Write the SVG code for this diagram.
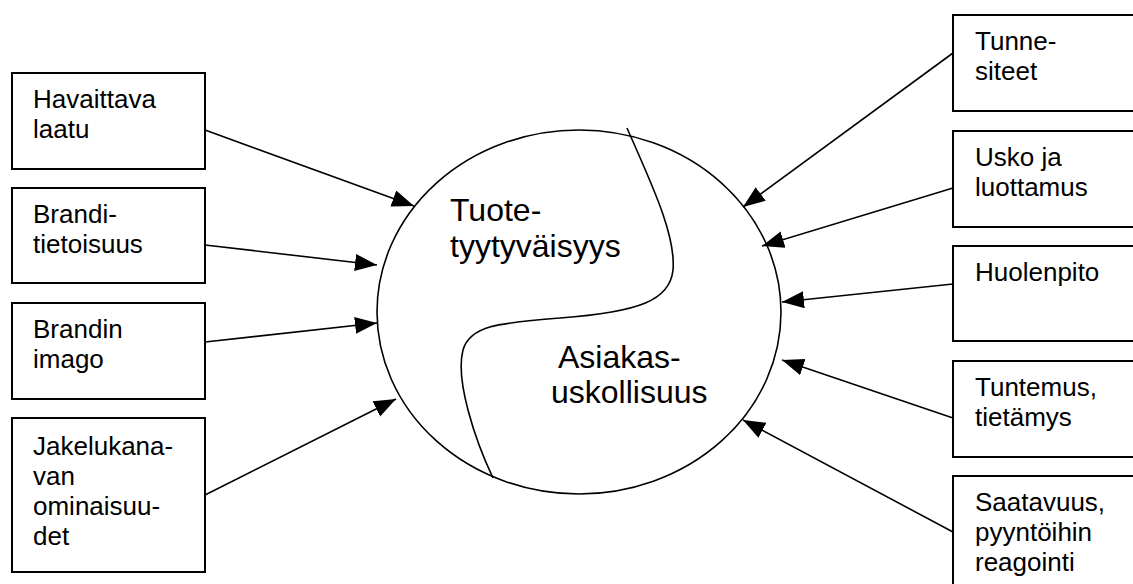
<svg xmlns="http://www.w3.org/2000/svg" width="1133" height="584" viewBox="0 0 1133 584">
<style>
.box{fill:#fff;stroke:#000;stroke-width:2}
.t{font-family:"Liberation Sans",Arial,sans-serif;font-size:26px;fill:#000}
.big{font-family:"Liberation Sans",Arial,sans-serif;font-size:32px;fill:#000}
.c{stroke:#000;stroke-width:1.6;fill:none}
</style>
<defs>
<marker id="ah" markerUnits="userSpaceOnUse" markerWidth="24" markerHeight="18" refX="22" refY="8.5" orient="auto">
<path d="M0,0 L22,8.5 L0,17 Z" fill="#000"/>
</marker>
</defs>
<rect width="1133" height="584" fill="#fff"/>
<g id="center">
<ellipse cx="579" cy="312" rx="202" ry="182" fill="#fff" stroke="#000" stroke-width="1.6"/>
<path d="M627 128 C652 185 676 235 673 270 C670 300 640 312 560 318 C500 323 470 325 463 350 C455 380 475 440 493 478" fill="none" stroke="#000" stroke-width="1.6"/>
<text class="big" x="450" y="221">Tuote-</text>
<text class="big" x="450" y="257">tyytyväisyys</text>
<text class="big" x="558" y="368">Asiakas-</text>
<text class="big" x="551" y="403">uskollisuus</text>
</g>
<g id="n1"><rect class="box" x="12" y="73" width="193" height="96"/><text class="t" x="33" y="108">Havaittava</text><text class="t" x="33" y="138">laatu</text></g>
<g id="n2"><rect class="box" x="12" y="188" width="193" height="95"/><text class="t" x="33" y="223">Brandi-</text><text class="t" x="33" y="253">tietoisuus</text></g>
<g id="n3"><rect class="box" x="12" y="303" width="193" height="96"/><text class="t" x="33" y="338">Brandin</text><text class="t" x="33" y="368">imago</text></g>
<g id="n4"><rect class="box" x="12" y="418" width="193" height="154"/><text class="t" x="33" y="455">Jakelukana-</text><text class="t" x="33" y="485">van</text><text class="t" x="33" y="515">ominaisuu-</text><text class="t" x="33" y="545">det</text></g>
<g id="n5"><rect class="box" x="953" y="15" width="200" height="96"/><text class="t" x="975" y="50">Tunne-</text><text class="t" x="975" y="80">siteet</text></g>
<g id="n6"><rect class="box" x="953" y="131" width="200" height="96"/><text class="t" x="975" y="166">Usko ja</text><text class="t" x="975" y="196">luottamus</text></g>
<g id="n7"><rect class="box" x="953" y="246" width="200" height="95"/><text class="t" x="975" y="281">Huolenpito</text></g>
<g id="n8"><rect class="box" x="953" y="361" width="200" height="96"/><text class="t" x="975" y="396">Tuntemus,</text><text class="t" x="975" y="426">tietämys</text></g>
<g id="n9"><rect class="box" x="953" y="476" width="200" height="130"/><text class="t" x="975" y="511">Saatavuus,</text><text class="t" x="975" y="541">pyyntöihin</text><text class="t" x="975" y="571">reagointi</text></g>
<g id="connectors">
<line class="c" x1="205" y1="130" x2="414" y2="206" marker-end="url(#ah)"/>
<line class="c" x1="205" y1="245" x2="377" y2="265" marker-end="url(#ah)"/>
<line class="c" x1="205" y1="342" x2="377" y2="323" marker-end="url(#ah)"/>
<line class="c" x1="205" y1="495" x2="396" y2="399" marker-end="url(#ah)"/>
<line class="c" x1="953" y1="53" x2="743" y2="207" marker-end="url(#ah)"/>
<line class="c" x1="953" y1="188" x2="762" y2="246" marker-end="url(#ah)"/>
<line class="c" x1="953" y1="284" x2="782" y2="302" marker-end="url(#ah)"/>
<line class="c" x1="953" y1="418" x2="782" y2="360" marker-end="url(#ah)"/>
<line class="c" x1="953" y1="532" x2="743" y2="420" marker-end="url(#ah)"/>
</g>
</svg>
